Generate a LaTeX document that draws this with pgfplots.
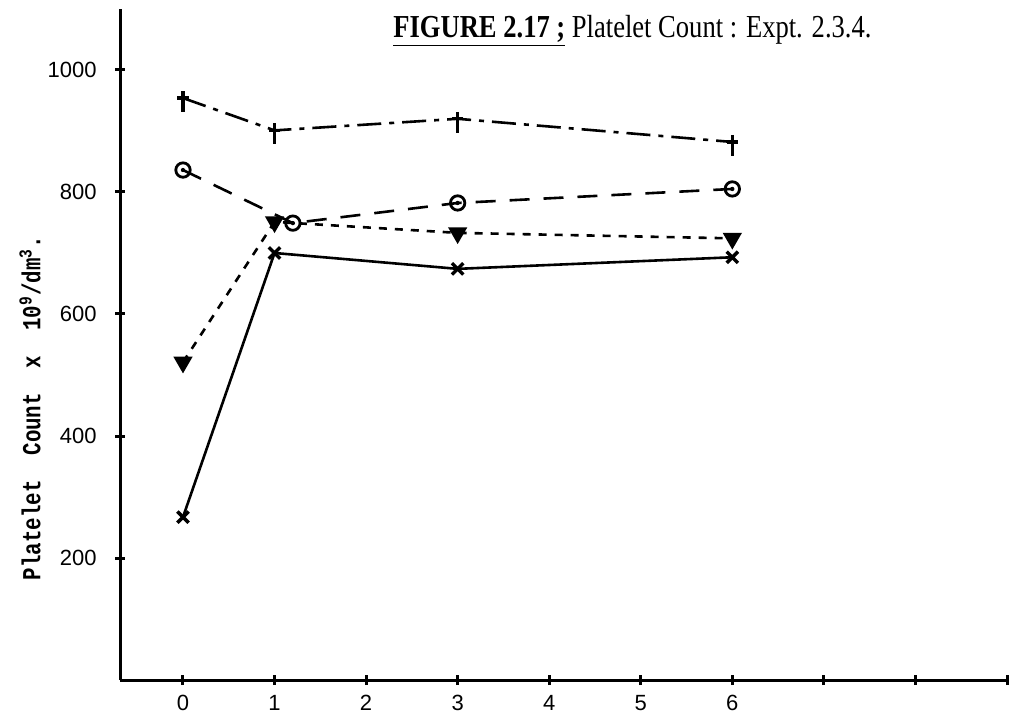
\documentclass[border=0pt]{standalone}
\usepackage{fontspec}
\setmainfont{Liberation Serif}
\newfontfamily\ticksfont{Liberation Sans}
\newfontfamily\labelfont[FakeStretch=0.8]{Liberation Mono}
\usepackage{pgfplots}
\pgfplotsset{compat=1.18}

% dagger-shaped marker: short stem above the crossbar, long stem below
\pgfdeclareplotmark{dagger}{%
  \pgfpathmoveto{\pgfqpoint{0pt}{3.5pt}}%
  \pgfpathlineto{\pgfqpoint{0pt}{-7pt}}%
  \pgfpathmoveto{\pgfqpoint{-2.8pt}{0pt}}%
  \pgfpathlineto{\pgfqpoint{2.8pt}{0pt}}%
  \pgfusepathqstroke}
% circle with a dot in the middle
\pgfdeclareplotmark{odot}{%
  \pgfpathcircle{\pgfpointorigin}{\pgfplotmarksize}%
  \pgfusepathqstroke
  \pgfpathcircle{\pgfpointorigin}{0.3\pgfplotmarksize}%
  \pgfusepathqfill}

\begin{document}
\begin{tikzpicture}[x=1pt,y=1pt]
\useasboundingbox (0,0) rectangle (511,362);
\begin{axis}[
  at={(60pt,22pt)}, anchor=south west,
  scale only axis, width=443.5pt, height=335.5pt,
  xmin=-0.688, xmax=9, ymin=0, ymax=1100,
  axis lines=left,
  axis line style={line width=1.5pt, -},
  clip=false,
  xtick={0,...,9}, xticklabels={0,1,2,3,4,5,6,{},{},{}},
  ytick={200,400,600,800,1000},
  tick align=center, major tick length=5pt,
  tick style={line width=1.5pt, black},
  ticklabel style={font=\ticksfont\fontsize{11}{13}\selectfont},
  /pgf/number format/assume math mode=true,
  /pgf/number format/1000 sep={},
  yticklabel style={anchor=east, inner sep=0pt, xshift=-9pt},
  xticklabel style={anchor=north, inner sep=0pt, yshift=-5pt},
  ylabel={\labelfont\bfseries\fontsize{13}{15}\selectfont Platelet~~Count~~x~~10\textsuperscript{9}/dm\textsuperscript{3}.},
  ylabel style={at={(axis description cs:-0.1015,0.405)}, anchor=center},
]
% dash-dot series with dagger markers
\addplot[black, line width=1.3pt, dash pattern=on 12pt off 4pt on 2.5pt off 4pt,
  mark=dagger, mark options={solid, line width=1.7pt}]
  coordinates {(0,954) (1,901) (3,920) (6,882)};
% long-dash series with dotted circles
\addplot[black, line width=1.3pt, dash pattern=on 10pt off 7pt,
  mark=odot, mark size=3.6pt, mark options={solid, line width=1.4pt}]
  coordinates {(0,836) (1.2,749) (3,782) (6,805)};
% short-dash series with filled down triangles
\addplot[black, line width=1.3pt, dash pattern=on 4pt off 4pt,
  mark=triangle*, mark size=4.3pt, mark options={solid, rotate=180, fill=black}]
  coordinates {(0,521) (1,751) (3,733) (6,724)};
% solid series with crosses
\addplot[black, line width=1.3pt,
  mark=x, mark size=4pt, mark options={solid, line width=1.7pt}]
  coordinates {(0,267) (1,700) (3,674) (6,693)};
\end{axis}
\node[anchor=base west, inner sep=0pt] at (196.5,343)
  {\scalebox{0.83}[1]{\fontsize{16}{19}\selectfont\underline{\textbf{FIGURE 2.17 ;}} Platelet Count : Expt. 2.3.4.}};
\end{tikzpicture}
\end{document}
